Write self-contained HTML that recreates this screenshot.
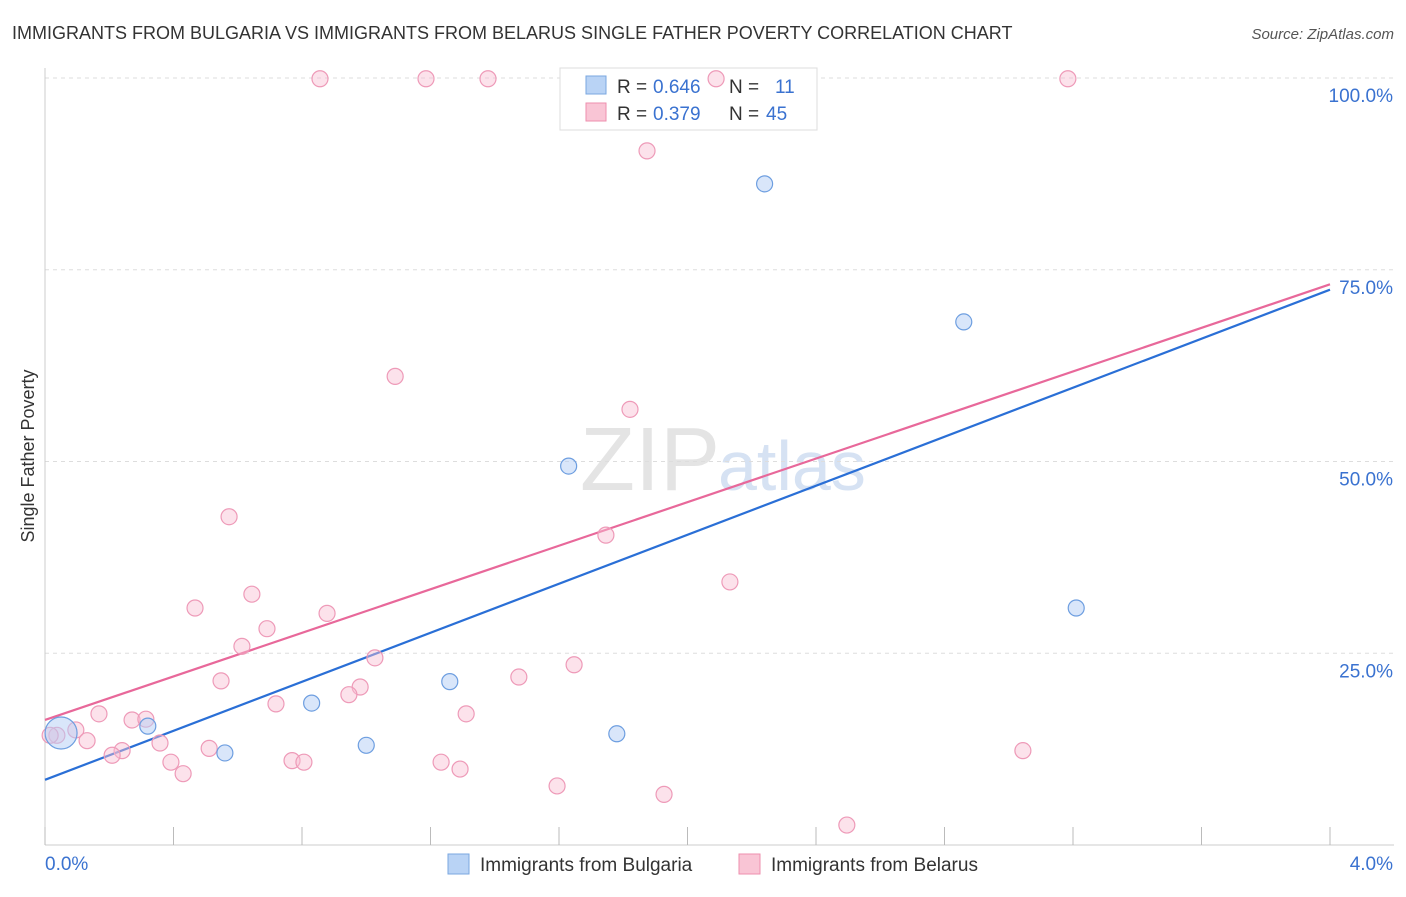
<!DOCTYPE html>
<html><head><meta charset="utf-8"><style>
body{margin:0;background:#fff;font-family:"Liberation Sans",sans-serif}
svg text{font-family:"Liberation Sans",sans-serif}
</style></head><body>
<svg id="chart" width="1406" height="892">
<text x="12" y="39" font-size="18" fill="#333">IMMIGRANTS FROM BULGARIA VS IMMIGRANTS FROM BELARUS SINGLE FATHER POVERTY CORRELATION CHART</text>
<text x="1394" y="39" font-size="15" fill="#555" font-style="italic" text-anchor="end">Source: ZipAtlas.com</text>
<text x="34" y="456" font-size="18" fill="#333" transform="rotate(-90 34 456)" text-anchor="middle">Single Father Poverty</text>
<text x="720" y="490" font-size="90" fill="#e4e4e4" text-anchor="end" font-family="Liberation Serif">ZIP</text>
<text x="718" y="490" font-size="70" fill="#d6e2f3">atlas</text>
<g id="grid"></g><g id="axes"></g><g id="lines"></g>
<g>
<rect x="560" y="68" width="257" height="62" fill="#fff" stroke="#ddd"/>
<rect x="586" y="76" width="20" height="18" fill="#b9d3f5" stroke="#7aa7e0"/>
<text x="617" y="93" font-size="19" fill="#333">R =</text>
<text x="653" y="93" font-size="19" fill="#3a72d0">0.646</text>
<text x="729" y="93" font-size="19" fill="#333">N =</text>
<text x="775" y="93" font-size="19" fill="#3a72d0">11</text>
<rect x="586" y="103" width="20" height="18" fill="#f9c5d5" stroke="#ee8fae"/>
<text x="617" y="120" font-size="19" fill="#333">R =</text>
<text x="653" y="120" font-size="19" fill="#3a72d0">0.379</text>
<text x="729" y="120" font-size="19" fill="#333">N =</text>
<text x="766" y="120" font-size="19" fill="#3a72d0">45</text>
</g>
<g id="pts"></g>
<g>
<rect x="448" y="854" width="21" height="20" fill="#b9d3f5" stroke="#7aa7e0"/>
<text x="480" y="871" font-size="19" fill="#333">Immigrants from Bulgaria</text>
<rect x="739" y="854" width="21" height="20" fill="#f9c5d5" stroke="#ee8fae"/>
<text x="771" y="871" font-size="19" fill="#333">Immigrants from Belarus</text>
</g>
</svg>
<script>
const yTicks=[25,50,75,100];
const yTickLabels=["25.0%","50.0%","75.0%","100.0%"];
const xTickLabels=["0.0%","4.0%"];
const bulgariaX=[0.05,0.32,0.56,0.83,1.0,1.26,1.63,1.78,2.24,2.86,3.21];
const bulgariaY=[14.6,15.5,12.0,18.5,13.0,21.3,49.4,14.5,86.2,68.2,30.9];
const belarusX=[0.856,1.186,1.379,2.089,3.184,1.874,1.09,1.821,0.573,1.746,2.132,0.644,0.467,0.878,0.691,0.613,1.027,1.647,1.475,0.548,0.981,0.946,0.719,0.168,1.311,0.271,0.314,0.096,0.037,0.131,0.358,0.511,0.24,0.209,3.044,0.392,0.769,0.806,1.233,1.292,0.43,1.594,1.927,2.496,0.016];
const belarusY=[99.9,99.9,99.9,99.9,99.9,90.5,61.1,56.8,42.8,40.4,34.3,32.7,30.9,30.2,28.2,25.9,24.4,23.5,21.9,21.4,20.6,19.6,18.4,17.1,17.1,16.3,16.4,15.0,14.3,13.6,13.3,12.6,12.3,11.7,12.3,10.8,11.0,10.8,10.8,9.9,9.3,7.7,6.6,2.6,14.3];
const bulgariaTrend=[8.5,72.4];
const belarusTrend=[16.3,73.1];
const X=v=>45+v*321.25, Y=v=>845-v*7.67;
const NS="http://www.w3.org/2000/svg";
function mk(t,a,p){const e=document.createElementNS(NS,t);for(const k in a)e.setAttribute(k,a[k]);p.appendChild(e);return e;}
const grid=document.getElementById('grid'),axes=document.getElementById('axes'),lines=document.getElementById('lines'),pts=document.getElementById('pts');
yTicks.forEach((v,i)=>{
 const l=mk('line',{x1:45,x2:1394,y1:Y(v),y2:Y(v),stroke:'#ddd','stroke-dasharray':'4,4'},grid);
 
 
 const t=mk('text',{x:1393,y:Y(v)+24,'font-size':19,fill:'#3a72d0','text-anchor':'end'},axes);
 t.textContent=yTickLabels[i];
 
 
});
const xa=mk('line',{x1:45,x2:1394,y1:845,y2:845,stroke:'#ccc'},axes);


const ya=mk('line',{x1:45,x2:45,y1:68,y2:845,stroke:'#ccc'},axes);


for(let i=0;i<=10;i++){const tk=mk('line',{x1:X(i*0.4),x2:X(i*0.4),y1:827,y2:845,stroke:'#bbb'},axes);
 
 }
[[0,45,'start'],[4,1393,'end']].forEach((d,i)=>{const t=mk('text',{x:d[1],y:870,'font-size':19,fill:'#3a72d0','text-anchor':d[2]},axes);t.textContent=xTickLabels[i];
 
 });
const tb=mk('line',{x1:X(0),x2:X(4),y1:Y(bulgariaTrend[0]),y2:Y(bulgariaTrend[1]),stroke:'#2a6fd6','stroke-width':2.2},lines);


const tp=mk('line',{x1:X(0),x2:X(4),y1:Y(belarusTrend[0]),y2:Y(belarusTrend[1]),stroke:'#e8689a','stroke-width':2.2},lines);


belarusX.forEach((x,i)=>{const c=mk('circle',{cx:X(x),cy:Y(belarusY[i]),r:8,fill:'rgba(249,190,210,0.45)',stroke:'#ee9ab8','stroke-width':1.2},pts);
 
 });
bulgariaX.forEach((x,i)=>{const c=mk('circle',{cx:X(x),cy:Y(bulgariaY[i]),r:i==0?16:8,fill:'rgba(180,206,245,0.5)',stroke:'#6d9ee0','stroke-width':1.2},pts);
 
 });
</script>
</body></html>
